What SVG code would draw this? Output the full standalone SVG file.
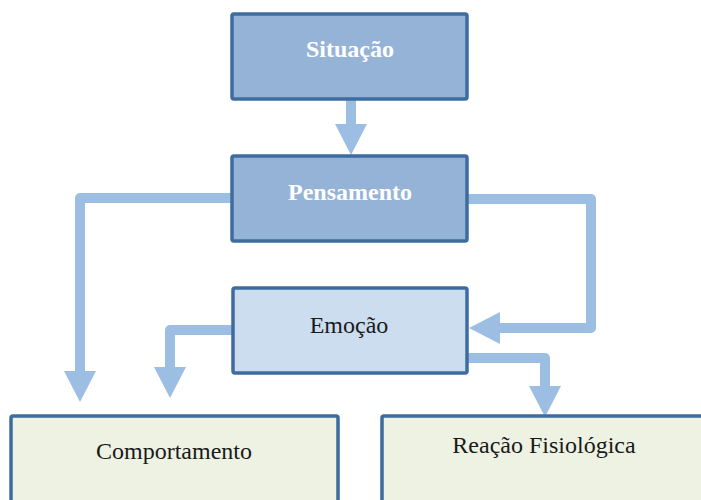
<svg xmlns="http://www.w3.org/2000/svg" width="701" height="500" viewBox="0 0 701 500">
<style>
.dark{fill:#95B3D7;stroke:#3E6C9F;stroke-width:3.5}
.mid{fill:#CCDDF0;stroke:#3E6C9F;stroke-width:3.5}
.light{fill:#EEF2E3;stroke:#3E6C9F;stroke-width:3.5}
.conn{fill:none;stroke:#9DBEE3;stroke-width:10;stroke-linejoin:round}
.tw{font-family:"Liberation Serif","Times New Roman",serif;font-size:24px;font-weight:bold;fill:#FFFFFF;text-anchor:middle}
.tb{font-family:"Liberation Serif","Times New Roman",serif;font-size:24px;fill:#1A1A1A;text-anchor:middle}
</style>
<defs>
<marker id="ah" viewBox="0 0 31 32" markerWidth="31" markerHeight="32" refX="0" refY="16" orient="auto" markerUnits="userSpaceOnUse">
<path d="M0,0 L31,16 L0,32 Z" fill="#9DBEE3"/>
</marker>
</defs>
<rect width="701" height="500" fill="#FFFFFF"/>
<g id="connectors">
<path class="conn" d="M351,100 L351,124" marker-end="url(#ah)"/>
<path class="conn" d="M232,198 L80,198 L80,371" marker-end="url(#ah)"/>
<path class="conn" d="M233,330 L170,330 L170,367" marker-end="url(#ah)"/>
<path class="conn" d="M467,199 L591,199 L591,328 L500,328" marker-end="url(#ah)"/>
<path class="conn" d="M468,358 L545,358 L545,386" marker-end="url(#ah)"/>
</g>
<g id="situacao">
<rect class="dark" x="232" y="14" width="235" height="85" rx="2"/>
<text class="tw" x="350" y="57">Situação</text>
</g>
<g id="pensamento">
<rect class="dark" x="232" y="156" width="235" height="85" rx="2"/>
<text class="tw" x="350" y="200">Pensamento</text>
</g>
<g id="emocao">
<rect class="mid" x="233" y="288" width="234" height="85" rx="2"/>
<text class="tb" x="349" y="333">Emoção</text>
</g>
<g id="comportamento">
<rect class="light" x="11" y="416" width="327" height="100" rx="2"/>
<text class="tb" x="174" y="459">Comportamento</text>
</g>
<g id="reacao">
<rect class="light" x="382" y="416" width="330" height="100" rx="2"/>
<text class="tb" x="544" y="453">Reação Fisiológica</text>
</g>
</svg>
